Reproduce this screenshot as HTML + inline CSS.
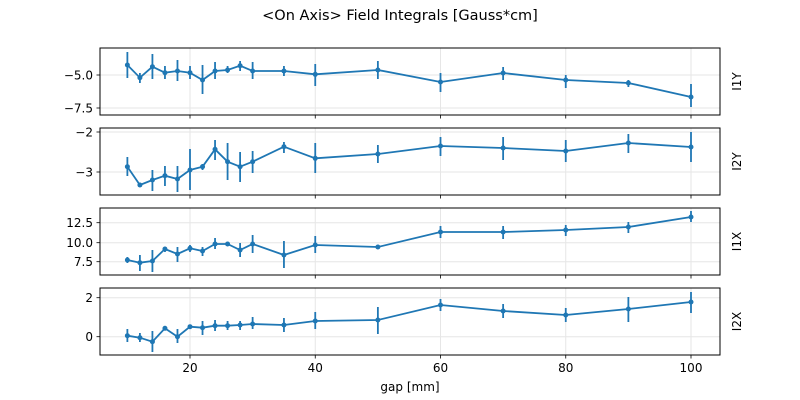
<!DOCTYPE html>
<html><head><meta charset="utf-8"><style>body{margin:0;background:#fff}svg{display:block}text{font-family:"DejaVu Sans","Liberation Sans",sans-serif;fill:#000}</style></head>
<body>
<svg id="s" width="800" height="400" xmlns="http://www.w3.org/2000/svg">
<text x="400" y="20" font-size="14.5" text-anchor="middle">&lt;On Axis&gt; Field Integrals [Gauss*cm]</text>
<text x="410" y="391" font-size="12" text-anchor="middle">gap [mm]</text>
</svg>
<script>
const s=document.getElementById('s'),NS='http://www.w3.org/2000/svg';
function el(t,a,txt){const e=document.createElementNS(NS,t);for(const k in a)e.setAttribute(k,a[k]);if(txt!==undefined)e.textContent=txt;s.appendChild(e);return e;}
const gaps=[10,12,14,16,18,20,22,24,26,28,30,35,40,50,60,70,80,90,100];
const X=g=>190+6.2625*(g-20);
const panels=[
 {t:48,b:115,lab:'I1Y',ticks:[[75,'−5.0'],[108,'−7.5']],
  d:[[65,52,78],[77.7,73,83],[66.7,54,79],[72.7,66,79],[71,60,81],[72.7,66,79],[80,65,94],[71,62,79],[70,66,73],[65.7,61,71],[71,62,79],[71,66,76],[74.3,64,86],[70,61,79],[82,73,92],[73,67,80],[80,75,88],[83,80,87],[97,84,107]]},
 {t:128,b:195,lab:'I2Y',ticks:[[132,'−2'],[172,'−3']],
  d:[[166.7,157,176],[185,183,187],[180,170,191],[175.7,166,186],[179,166,192],[170,149,190],[166.7,164,170],[149.3,140,160],[161.7,143,180],[166.7,152,182],[161.7,151,173],[146.7,142,153],[158.3,143,173],[154,145,163],[146,137,156],[148,137,160],[151,140,162],[143,134,153],[147,132,162]]},
 {t:208,b:275,lab:'I1X',ticks:[[222.7,'12.5'],[242.7,'10.0'],[261.7,'7.5']],
  d:[[260,257,263],[262.7,255,271],[261,250,272],[249,247,252],[254,247,262],[248.3,245,252],[251,247,256],[244,238,249],[244,243,245],[250,243,257],[244,235,253],[255,241,268],[245,236,253],[247,246,248],[232,226,238],[232,226,239],[230,225,236],[227,222,233],[217,211,222]]},
 {t:288,b:355,lab:'I2X',ticks:[[297.7,'2'],[336.7,'0']],
  d:[[335.7,329,342],[337.7,333,342],[341.7,331,352],[328.3,327,330],[336.7,329,343],[326.7,325,328],[327.7,321,335],[325.7,320,331],[325.7,321,330],[325,321,330],[324,317,329],[325,318,332],[321,312,329],[320,307,334],[305,299,311],[311,304,318],[315,308,322],[309,297,322],[302,292,313]]}
];
panels.forEach((p,i)=>{
 [20,40,60,80,100].forEach(g=>el('line',{x1:X(g),x2:X(g),y1:p.t,y2:p.b,stroke:'#e6e6e6','stroke-width':1}));
 p.ticks.forEach(([y,l])=>{el('line',{x1:100,x2:720,y1:y,y2:y,stroke:'#e6e6e6','stroke-width':1});
  el('line',{x1:96.5,x2:100,y1:y,y2:y,stroke:'#000','stroke-width':0.8});
  el('text',{x:93,y:y+4.5,'font-size':12,'text-anchor':'end'},l);});
 [20,40,60,80,100].forEach(g=>{el('line',{x1:X(g),x2:X(g),y1:p.b,y2:p.b+3.5,stroke:'#000','stroke-width':0.8});
  if(i==3)el('text',{x:X(g),y:p.b+17,'font-size':12,'text-anchor':'middle'},g);});
 p.d.forEach((v,j)=>el('line',{x1:X(gaps[j]),x2:X(gaps[j]),y1:v[1],y2:v[2],stroke:'#1f77b4','stroke-width':1.8}));
 el('polyline',{points:p.d.map((v,j)=>X(gaps[j])+','+v[0]).join(' '),fill:'none',stroke:'#1f77b4','stroke-width':1.8});
 p.d.forEach((v,j)=>el('circle',{cx:X(gaps[j]),cy:v[0],r:2.5,fill:'#1f77b4'}));
 el('rect',{x:100,y:p.t,width:620,height:p.b-p.t,fill:'none',stroke:'#000','stroke-width':1});
 const cy=(p.t+p.b)/2;
 el('text',{x:737,y:cy,'font-size':12,'text-anchor':'middle',transform:`rotate(-90 737 ${cy})`,dy:4},p.lab);
});
</script>
</body></html>
